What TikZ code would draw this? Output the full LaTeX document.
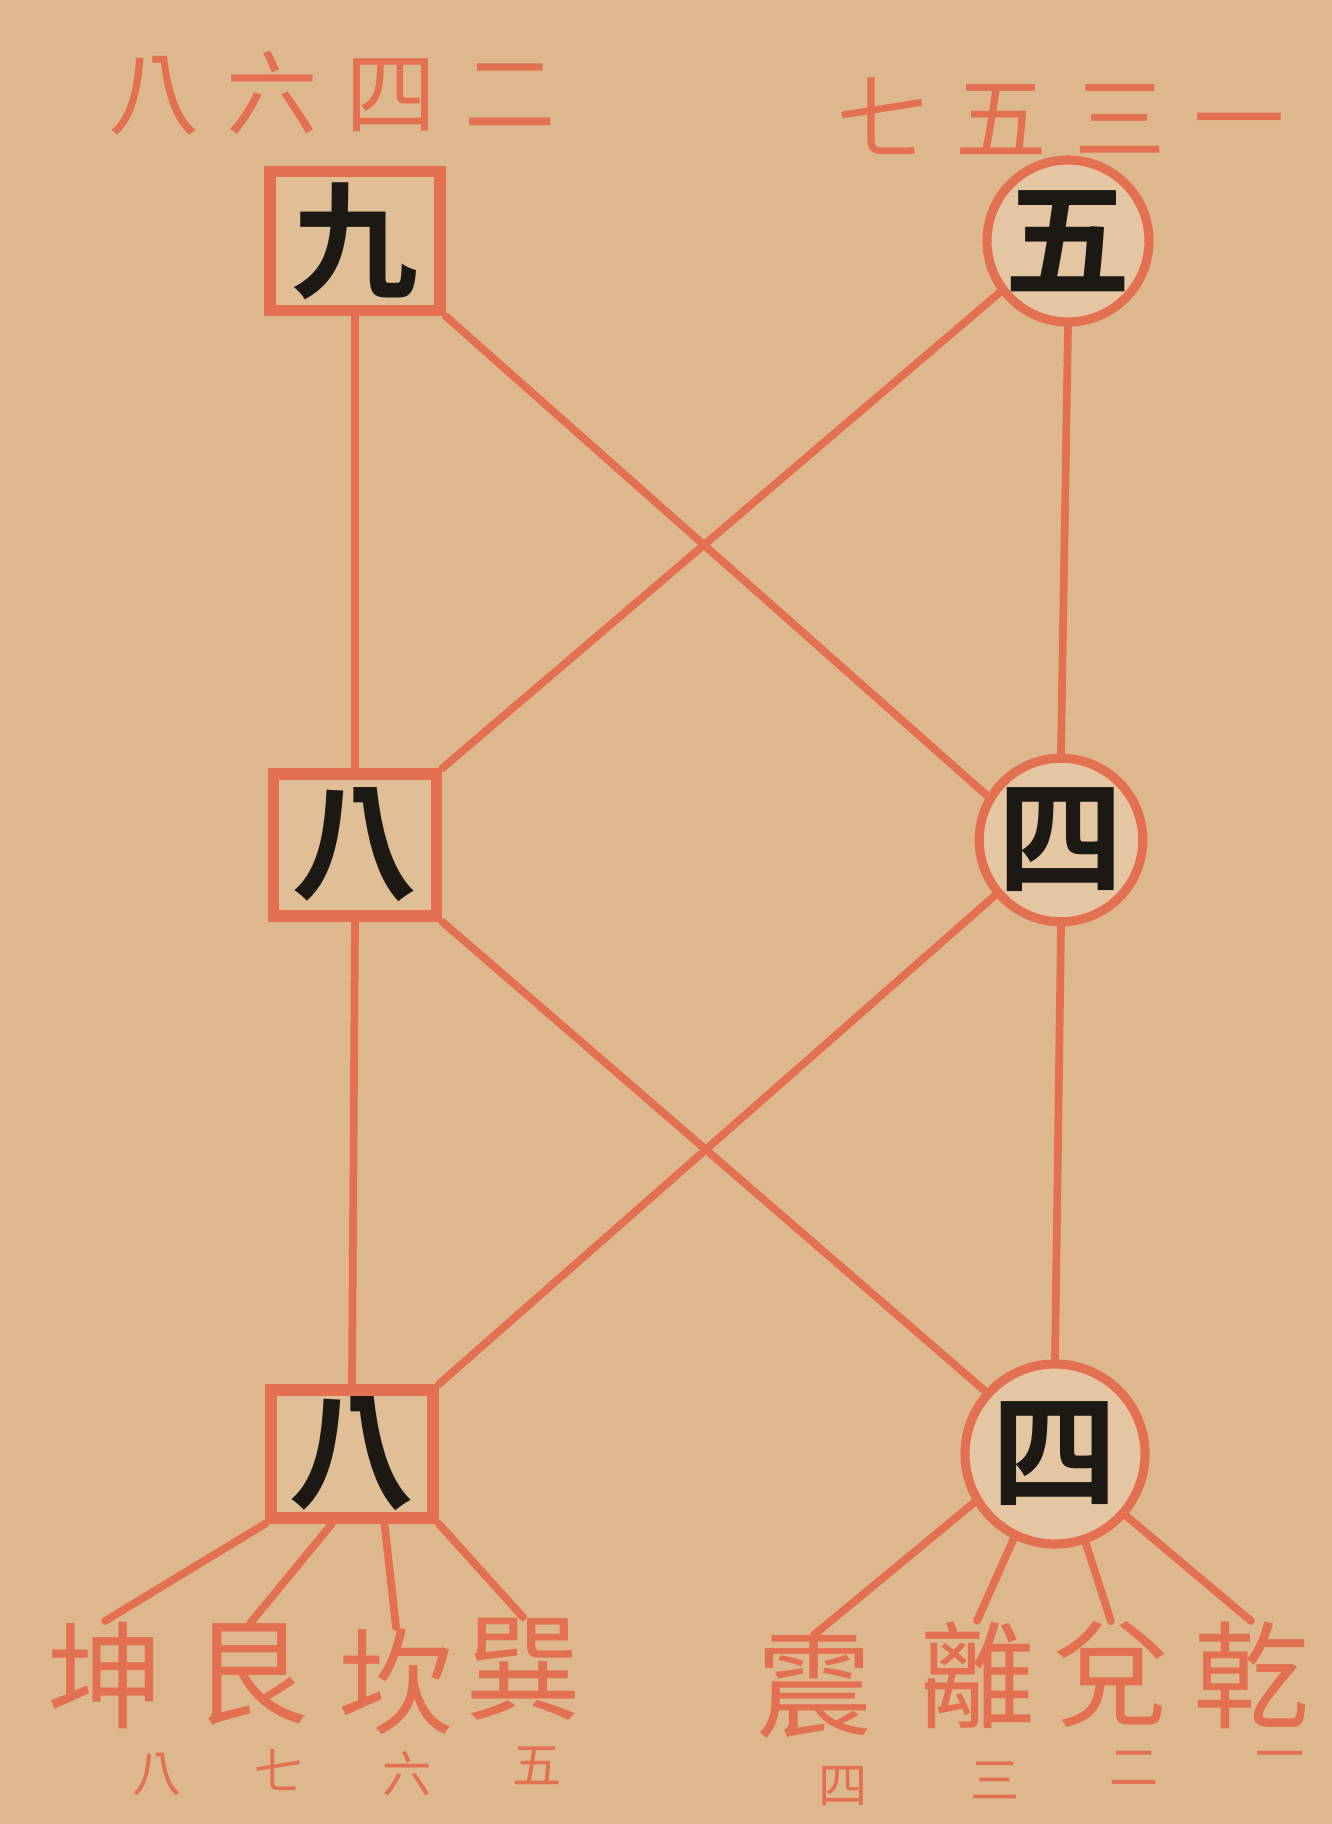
\documentclass[tikz,border=0pt]{standalone}
\usepackage{fontspec}
\newfontfamily\cjk{Noto Sans CJK TC}
\newfontfamily\cjkbold{Noto Sans CJK TC Bold}
\usetikzlibrary{shapes.geometric, positioning}
\definecolor{paper}{RGB}{221,184,140}
\definecolor{cinnabar}{RGB}{228,112,82}
\definecolor{ink}{RGB}{28,24,20}

\begin{document}
\begin{tikzpicture}[
    yaoBox/.style={rectangle, draw=cinnabar, line width=3.2pt, fill=paper!90!white, inner sep=0pt, text=ink, font=\cjkbold\fontsize{36}{36}\selectfont},
    yaoRing/.style={circle, draw=cinnabar, line width=2.6pt, fill=paper!80!white, inner sep=0pt, text=ink, font=\cjkbold\fontsize{36}{36}\selectfont},
    gua/.style={inner sep=0pt, text=cinnabar, font=\cjk\fontsize{33}{33}\selectfont},
    num/.style={inner sep=0pt, text=cinnabar, font=\cjk\fontsize{14}{14}\selectfont},
    row/.style={inner sep=0pt, text=cinnabar, font=\cjk\fontsize{26}{26}\selectfont},
    link/.style={draw=cinnabar, line width=2.2pt, line cap=round}
]
    \fill[paper] (0,0) rectangle (13.32,-18.24);
    \useasboundingbox (0,0) rectangle (13.32,-18.24);

    % even and odd rows
    \node[row] (evens) at (3.32,-0.93) {八\hspace{0.3em}六\hspace{0.3em}四\hspace{0.3em}二};
    \node[row] (odds) at (10.61,-1.16) {七\hspace{0.3em}五\hspace{0.3em}三\hspace{0.3em}一};

    % left column
    \node[yaoBox, minimum width=1.70cm, minimum height=1.39cm] (nine) at (3.55,-2.41) {九};
    \node[yaoBox, minimum width=1.63cm, minimum height=1.42cm] (eightA) at (3.55,-8.45) {八};
    \node[yaoBox, minimum width=1.62cm, minimum height=1.28cm] (eightB) at (3.52,-14.54) {八};

    % right column
    \node[yaoRing, minimum size=1.62cm] (five) at (10.68,-2.41) {五};
    \node[yaoRing, minimum size=1.45cm] (fourA) at (10.61,-8.40) {四};
    \node[yaoRing, minimum size=1.80cm] (fourB) at (10.55,-14.54) {四};

    % trigrams
    \node[gua] (kun) at (1.05,-16.75) {坤};
    \node[gua] (gen) at (2.50,-16.75) {艮};
    \node[gua] (kan) at (3.96,-16.81) {坎};
    \node[gua] (xun) at (5.23,-16.69) {巽};
    \node[gua] (zhen) at (8.14,-16.87) {震};
    \node[gua] (li) at (9.77,-16.75) {離};
    \node[gua] (dui) at (11.11,-16.75) {兌};
    \node[gua] (qian) at (12.51,-16.75) {乾};

    \node[num] (kunN) at (1.57,-17.74) {八};
    \node[num] (genN) at (2.79,-17.70) {七};
    \node[num] (kanN) at (4.07,-17.74) {六};
    \node[num] (xunN) at (5.37,-17.66) {五};
    \node[num] (zhenN) at (8.43,-17.86) {四};
    \node[num] (liN) at (9.95,-17.80) {三};
    \node[num] (duiN) at (11.34,-17.68) {二};
    \node[num] (qianN) at (12.80,-17.62) {一};

    % columns
    \draw[link] (nine.south) -- (eightA.north);
    \draw[link] (eightA.south) -- (eightB.north);
    \draw[link] (five.south) -- (fourA.north);
    \draw[link] (fourA.south) -- (fourB.north);

    % crossings
    \draw[link] (nine.south east) -- (fourA.149);
    \draw[link] (five.217) -- (eightA.north east);
    \draw[link] (eightA.south east) -- (fourB.138);
    \draw[link] (fourA.220) -- (eightB.north east);

    % down to the trigrams
    \draw[link] (eightB.south west) -- (kun.north);
    \draw[link] (eightB.-106) -- (gen.north);
    \draw[link] (eightB.-65) -- (kan.north);
    \draw[link] (eightB.south east) -- (xun.north);
    \draw[link] (fourB.211) -- (zhen.north);
    \draw[link] (fourB.244) -- (li.north);
    \draw[link] (fourB.289) -- (dui.north);
    \draw[link] (fourB.319) -- (qian.north);
\end{tikzpicture}
\end{document}
